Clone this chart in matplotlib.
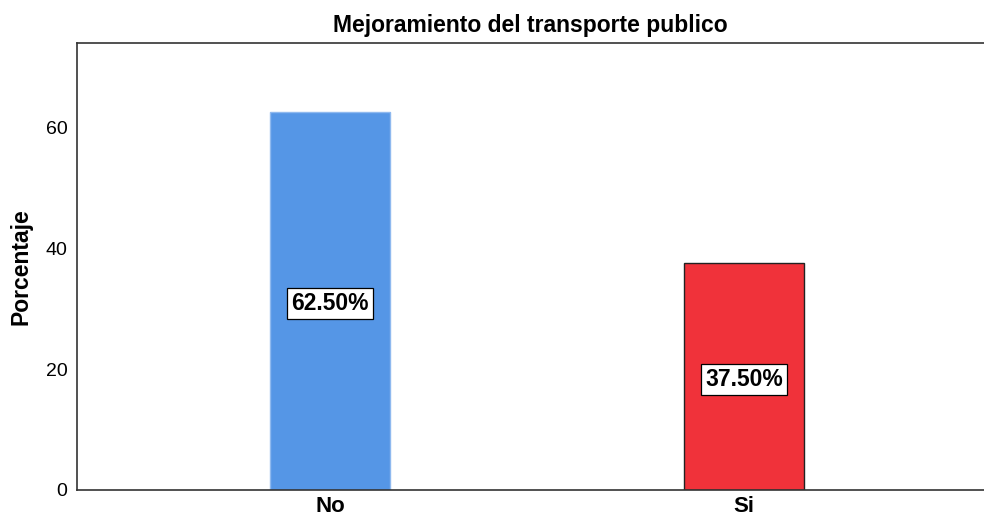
import matplotlib
matplotlib.use('Agg')
import matplotlib.pyplot as plt

categories = ['No', 'Si']
percentages = [62.5, 37.5]
labels = ['62.50%', '37.50%']
colors = ['#5596e6', '#f0323a']
edges = ['#8fb9ef', '#222222']

plt.rcParams['font.family'] = ['Liberation Sans', 'DejaVu Sans']

fig = plt.figure(figsize=(9.84, 5.19), dpi=100)
ax = fig.add_axes([0.0783, 0.0559, 0.9217, 0.8613])

x = list(range(len(categories)))
for i in x:
    ax.bar(i, percentages[i], width=0.288, color=colors[i], edgecolor=edges[i], linewidth=1)
    ax.text(i, percentages[i] / 2, labels[i], ha='center', va='center_baseline',
            fontsize=16.5, fontweight='bold',
            bbox=dict(boxstyle='square,pad=0.18', facecolor='white', edgecolor='black', linewidth=0.9))

ax.set_xlim(-0.611, 1.58)
ax.set_ylim(0, 74)
ax.set_xticks(x)
ax.set_xticklabels(categories, fontsize=16, fontweight='bold')
ax.set_yticks([0, 20, 40, 60])
ax.tick_params(axis='y', length=0, labelsize=14, pad=7)
ax.tick_params(axis='x', length=0, pad=4)
ax.set_ylabel('Porcentaje', fontsize=16.5, fontweight='bold', labelpad=9)
ax.set_title('Mejoramiento del transporte publico', fontsize=16.5, fontweight='bold', pad=8)

ax.spines['right'].set_visible(False)
for s in ['left', 'bottom', 'top']:
    ax.spines[s].set_color('#333333')
    ax.spines[s].set_linewidth(1.2)

fig.savefig('out.png', dpi=100)
